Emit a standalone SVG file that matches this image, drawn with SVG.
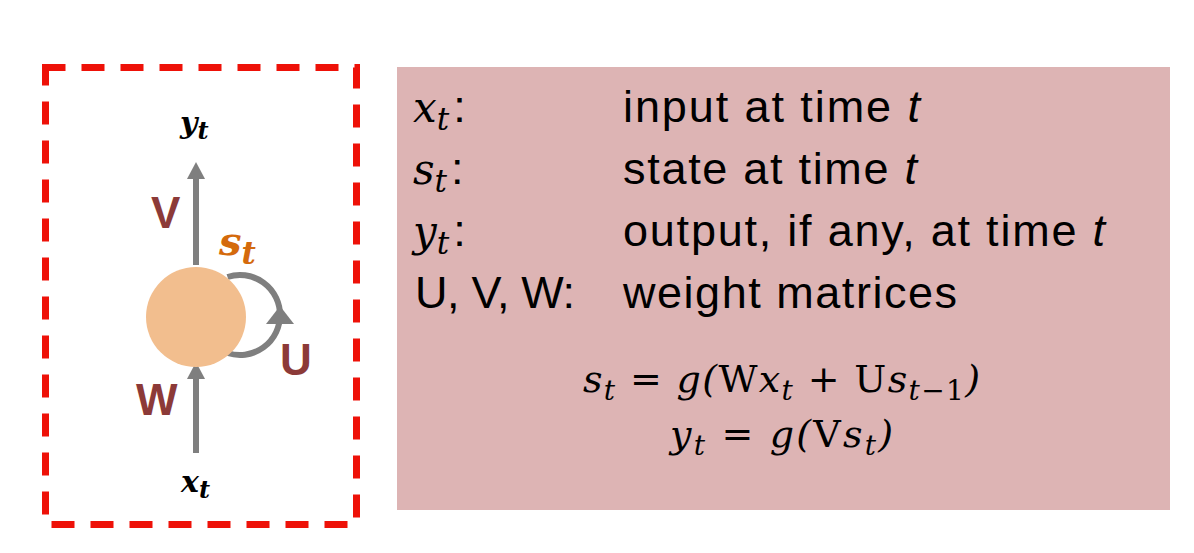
<svg xmlns="http://www.w3.org/2000/svg" width="1194" height="553" viewBox="0 0 1194 553">
<style>
.math{font-family:"DejaVu Serif","Liberation Serif",serif;font-style:italic}
.up{font-style:normal}
.lbl{font-family:"DejaVu Serif","Liberation Serif",serif;font-style:italic;font-weight:bold}
.wt{font-family:"Liberation Sans","DejaVu Sans",sans-serif;font-weight:bold;fill:#8C3A38;font-size:44px}
.txt{font-family:"Liberation Sans","DejaVu Sans",sans-serif;font-size:45px;fill:#000}
.arr{stroke:#7F7F7F;stroke-width:6;fill:none}
.head{fill:#7F7F7F}
</style>
<rect width="1194" height="553" fill="#fff"/>
<g id="frame">
<rect x="45.5" y="67.5" width="311" height="457" fill="none" stroke="#EE1108" stroke-width="7" stroke-dasharray="23 16" stroke-dashoffset="3"/>
</g>
<g id="connectors">
<line class="arr" x1="196" y1="265" x2="196" y2="176"/>
<polygon class="head" points="196,162 187,179 205,179"/>
<line class="arr" x1="196" y1="453" x2="196" y2="376"/>
<polygon class="head" points="196,362 187,379 205,379"/>
<path class="arr" d="M227.5,277 A40,40 0 1 1 227.5,353"/>
<polygon class="head" points="280,306 266,324 294,324"/>
</g>
<g id="node-state">
<circle cx="196" cy="317" r="50" fill="#F2BE8E"/>
<text class="lbl" x="219" y="255" font-size="40" fill="#D46A0C">s<tspan font-size="31" dy="9">t</tspan></text>
</g>
<g id="label-y">
<text class="lbl" x="180" y="133" font-size="30" fill="#000">y<tspan font-size="24" dy="6">t</tspan></text>
</g>
<g id="label-x">
<text class="lbl" x="181" y="492" font-size="30" fill="#000">x<tspan font-size="24" dy="6">t</tspan></text>
</g>
<g id="weights">
<text class="wt" x="151" y="228">V</text>
<text class="wt" x="136" y="415">W</text>
<text class="wt" x="280" y="375">U</text>
</g>
<g id="legend">
<rect x="397" y="67" width="773" height="443" fill="#DDB4B4"/>
<text class="txt" x="413" y="122"><tspan class="math" font-size="42">x<tspan font-size="31" dy="8">t</tspan></tspan><tspan dy="-8" dx="4">:</tspan></text>
<text class="txt" x="623" y="122" textLength="297" lengthAdjust="spacing">input at time <tspan font-style="italic">t</tspan></text>
<text class="txt" x="413" y="184"><tspan class="math" font-size="42">s<tspan font-size="31" dy="8">t</tspan></tspan><tspan dy="-8" dx="4">:</tspan></text>
<text class="txt" x="623" y="184" textLength="294" lengthAdjust="spacing">state at time <tspan font-style="italic">t</tspan></text>
<text class="txt" x="413" y="246"><tspan class="math" font-size="42">y<tspan font-size="31" dy="8">t</tspan></tspan><tspan dy="-8" dx="4">:</tspan></text>
<text class="txt" x="623" y="246" textLength="482" lengthAdjust="spacing">output, if any, at time <tspan font-style="italic">t</tspan></text>
<text class="txt" x="415" y="308" textLength="160" lengthAdjust="spacing">U, V, W:</text>
<text class="txt" x="623" y="308" textLength="334" lengthAdjust="spacing">weight matrices</text>
<text class="math" x="583" y="392" font-size="38" textLength="397" lengthAdjust="spacing">s<tspan font-size="28" dy="8">t</tspan><tspan dy="-8"> = g(</tspan><tspan class="up">W</tspan>x<tspan font-size="28" dy="8">t</tspan><tspan dy="-8"> + </tspan><tspan class="up">U</tspan>s<tspan font-size="28" dy="8">t<tspan class="up">−1</tspan></tspan><tspan dy="-8">)</tspan></text>
<text class="math" x="670" y="447" font-size="38" textLength="223" lengthAdjust="spacing">y<tspan font-size="28" dy="8">t</tspan><tspan dy="-8"> = g(</tspan><tspan class="up">V</tspan>s<tspan font-size="28" dy="8">t</tspan><tspan dy="-8">)</tspan></text>
</g>
</svg>
